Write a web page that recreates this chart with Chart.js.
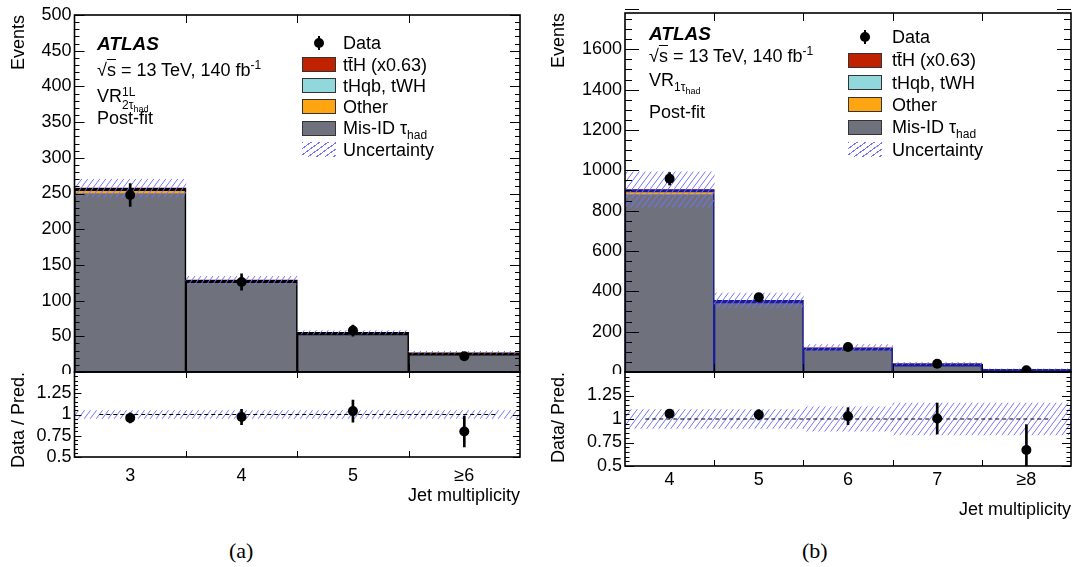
<!DOCTYPE html>
<html>
<head>
<meta charset="utf-8">
<title>Jet multiplicity, validation regions</title>
<script src="https://cdn.jsdelivr.net/npm/chart.js@4.4.1/dist/chart.umd.min.js"></script>
<style>
  body { margin: 0; background: #fff; }
  #page { position: relative; width: 1073px; height: 567px; overflow: hidden; font-family: "Liberation Sans", Arial, sans-serif; color: #000; }
  canvas { position: absolute; }
  .t { position: absolute; white-space: nowrap; font-size: 18px; line-height: 18px; }
  .t sup, .t sub { font-size: 12px; line-height: 0; }
  .ol { text-decoration: overline; }
  .sw { position: absolute; width: 34px; height: 15px; box-sizing: border-box; border: 1px solid #333; }
  .cap { position: absolute; font-family: "Liberation Serif", serif; font-size: 22px; line-height: 22px; }
</style>
</head>
<body>
<div id="page">
  <canvas id="mainA" width="530" height="374" style="left:0;top:0"></canvas>
  <canvas id="ratioA" width="530" height="141" style="left:0;top:371px"></canvas>
  <canvas id="mainB" width="533" height="374" style="left:540px;top:0"></canvas>
  <canvas id="ratioB" width="533" height="154" style="left:540px;top:371px"></canvas>

  <div class="t" style="left:97px;top:35px;font-weight:bold;font-style:italic;font-size:19px">ATLAS</div>
  <div class="t" style="left:97px;top:61px">√<span class="ol">s</span> = 13 TeV, 140 fb<sup>-1</sup></div>
  <div class="t" style="left:97px;top:86px">VR<span style="display:inline-block;font-size:12px;line-height:13px;vertical-align:-7px">1L<br>2τ<span style="font-size:9px;vertical-align:-3px">had</span></span></div>
  <div class="t" style="left:97px;top:109px">Post-fit</div>

  <div class="t" style="left:649px;top:25px;font-weight:bold;font-style:italic;font-size:19px">ATLAS</div>
  <div class="t" style="left:649px;top:47px">√<span class="ol">s</span> = 13 TeV, 140 fb<sup>-1</sup></div>
  <div class="t" style="left:649px;top:71px">VR<span style="font-size:12px;vertical-align:-5px">1τ<span style="font-size:9px;vertical-align:-3px">had</span></span></div>
  <div class="t" style="left:649px;top:103px">Post-fit</div>

  <div class="cap" style="left:229px;top:540px">(a)</div>
  <div class="cap" style="left:802px;top:540px">(b)</div>
</div>
<script>
// ---- panel (a): VR 1L 2tau_had ----
const catsA = ['3', '4', '5', '≥6'];
const misidA = [250, 125.5, 54, 26];
const otherA = [4.5, 1.6, 0.8, 0.5];
const thqbA = [0.5, 0.3, 0.1, 0.1];
const tthA = [2.5, 1.2, 0.6, 0.4];
const uncA = [12.5, 5.5, 2.5, 2];
const dataA = [248, 126, 58, 22];
const dataErrA = [16, 11.5, 7.7, 4.8];
const ratioA = [0.96, 0.97, 1.04, 0.80];
const ratioErrA = [0.06, 0.09, 0.13, 0.18];
const ratioUncA = [0.045, 0.045, 0.045, 0.045];
const yTicksA = [0, 50, 100, 150, 200, 250, 300, 350, 400, 450, 500];

// ---- panel (b): VR 1tau_had ----
const catsB = ['4', '5', '6', '7', '≥8'];
const misidB = [880, 342, 114, 38.5, 12];
const otherB = [10, 5, 2.5, 1.2, 0.5];
const thqbB = [3, 1.5, 0.7, 0.3, 0.1];
const tthB = [12, 6.5, 3, 1.5, 0.6];
const uncB = [88, 36, 16, 7, 2.3];
const dataB = [958, 371, 124, 41, 9];
const dataErrB = [31, 19, 11, 6.5, 3];
const ratioB = [1.055, 1.045, 1.03, 1.005, 0.67];
const ratioErrB = [0.035, 0.055, 0.09, 0.165, 0.27];
const ratioUncB = [0.1, 0.1, 0.13, 0.17, 0.17];
const yTicksB = [0, 200, 400, 600, 800, 1000, 1200, 1400, 1600];

const ratioTicks = [0.5, 0.75, 1, 1.25, 1.5];

const colors = { tth: '#c02200', thqb: '#90d8dc', other: '#ffa511', misid: '#6f727d', hatch: '#7373ff' };

Chart.defaults.font.family = '"Liberation Sans", Arial, sans-serif';
Chart.defaults.font.size = 18;
Chart.defaults.color = '#000';
Chart.defaults.animation = false;
Chart.defaults.plugins.legend.display = false;
Chart.defaults.plugins.tooltip.enabled = false;

function hatchPattern() {
  const c = document.createElement('canvas');
  c.width = 6; c.height = 8;
  const g = c.getContext('2d');
  g.strokeStyle = colors.hatch;
  g.lineWidth = 1;
  g.beginPath();
  g.moveTo(0, 8); g.lineTo(6, 0);
  g.moveTo(-1, 1.33); g.lineTo(1, -1.33);
  g.moveTo(5, 9.33); g.lineTo(7, 6.67);
  g.stroke();
  return g.createPattern(c, 'repeat');
}

// fixed axis box, no extra room for the end labels
function fixY(w) {
  return (s) => { s.width = w; s.paddingTop = 0; s.paddingBottom = 0; };
}

// ROOT style frame with inward ticks on all sides
const frameTicks = {
  id: 'frameTicks',
  afterDatasetsDraw(chart, args, o) {
    const { ctx, chartArea: a } = chart;
    const x = chart.scales.x, y = chart.scales.y;
    ctx.save();
    ctx.strokeStyle = '#000';
    ctx.lineWidth = 1;
    ctx.beginPath();
    const n = Math.round((y.max - y.min) / o.minor);
    for (let k = 0; k <= n; k++) {
      const v = y.min + k * o.minor;
      const r = v / o.step;
      const len = Math.abs(r - Math.round(r)) < 1e-6 ? o.majLen : o.minLen;
      const p = Math.round(y.getPixelForValue(v)) + 0.5;
      ctx.moveTo(a.left, p); ctx.lineTo(a.left + len, p);
      ctx.moveTo(a.right, p); ctx.lineTo(a.right - len, p);
    }
    const nb = x.getLabels().length;
    for (let i = 0; i < nb - 1; i++) {
      const p = Math.round((x.getPixelForValue(i) + x.getPixelForValue(i + 1)) / 2) + 0.5;
      ctx.moveTo(p, a.bottom); ctx.lineTo(p, a.bottom - o.xLen);
      ctx.moveTo(p, a.top); ctx.lineTo(p, a.top + o.xLen);
    }
    ctx.stroke();
    ctx.lineWidth = 1.6;
    ctx.strokeRect(a.left, a.top, a.right - a.left, a.bottom - a.top);
    ctx.restore();
  }
};

function mainChart(id, cats, stack, unc, pts, ptsErr, yTicks, o) {
  const total = cats.map((c, i) => stack.reduce((s, d) => s + d.data[i], 0));
  const datasets = [
    { type: 'line', data: pts, showLine: false, pointRadius: 5, pointBackgroundColor: '#000', pointBorderWidth: 0, order: 0 },
    { type: 'bar', data: pts.map((v, i) => [v - ptsErr[i], v + ptsErr[i]]), backgroundColor: '#000',
      grouped: false, maxBarThickness: 2, stack: 'err', order: 1 },
    { type: 'bar', data: total.map((v, i) => [v - unc[i], v + unc[i]]), backgroundColor: hatchPattern(),
      grouped: false, stack: 'unc', order: 2 },
    { type: 'bar', data: total, backgroundColor: 'rgba(0,0,0,0)', borderColor: o.line,
      borderWidth: { top: 2.5, left: 0.8, right: 0.8, bottom: 0 }, borderSkipped: false,
      grouped: false, stack: 'outline', order: 3 }
  ];
  stack.forEach((d, k) => datasets.push({ type: 'bar', data: d.data, backgroundColor: d.color, borderWidth: 0, stack: 'mc', order: 4 + k }));
  return new Chart(document.getElementById(id), {
    type: 'bar',
    data: { labels: cats, datasets: datasets },
    options: {
      responsive: false,
      devicePixelRatio: 1,
      barPercentage: 1,
      categoryPercentage: 1,
      layout: { autoPadding: false, padding: { top: o.top, right: o.right, left: 0, bottom: 2 } },
      scales: {
        x: { type: 'category', offset: true, stacked: true, display: false },
        y: {
          stacked: true, min: 0, max: o.ymax,
          afterBuildTicks: (s) => { s.ticks = yTicks.map((v) => ({ value: v })); },
          afterFit: fixY(o.yw),
          ticks: { padding: 3, autoSkip: false, callback: (v) => String(v) },
          grid: { display: false, drawTicks: false }, border: { display: false },
          title: { display: true, text: 'Events', align: 'end', padding: { top: 8, bottom: 0 } }
        }
      },
      plugins: { frameTicks: { step: o.step, minor: o.minor, majLen: o.majLen, minLen: o.minLen, xLen: 8 } }
    },
    plugins: [frameTicks]
  });
}

function ratioChart(id, cats, ratio, ratioErr, band, o) {
  const datasets = [
    { type: 'line', data: ratio, showLine: false, pointRadius: 5, pointBackgroundColor: '#000', pointBorderWidth: 0, order: 0 },
    { type: 'bar', data: ratio.map((v, i) => [v - ratioErr[i], v + ratioErr[i]]), backgroundColor: '#000',
      grouped: false, maxBarThickness: 2, order: 1 },
    { type: 'line', xAxisID: 'xl', data: [{ x: 0, y: 1 }, { x: cats.length, y: 1 }], borderColor: '#000',
      borderWidth: 1.2, borderDash: [4, 3], pointRadius: 0, order: 2 },
    { type: 'bar', data: band.map((u) => [1 - u, 1 + u]), backgroundColor: hatchPattern(), grouped: false, order: 3 }
  ];
  return new Chart(document.getElementById(id), {
    type: 'bar',
    data: { labels: cats, datasets: datasets },
    options: {
      responsive: false,
      devicePixelRatio: 1,
      barPercentage: 1,
      categoryPercentage: 1,
      layout: { autoPadding: false, padding: { top: 1, right: o.right, left: 0, bottom: 0 } },
      scales: {
        x: {
          type: 'category', offset: true,
          afterFit: (s) => { s.height = o.xh; },
          ticks: { padding: o.tickPad, maxRotation: 0 },
          grid: { display: false, drawTicks: false }, border: { display: false },
          title: { display: true, text: 'Jet multiplicity', align: 'end', padding: { top: 0, bottom: o.titlePad } }
        },
        xl: { type: 'linear', display: false, min: 0, max: cats.length },
        y: {
          min: 0.5, max: 1.5,
          afterBuildTicks: (s) => { s.ticks = ratioTicks.map((v) => ({ value: v })); },
          afterFit: fixY(o.yw),
          ticks: { padding: 3, autoSkip: false, callback: (v) => (v > 1.4 ? '' : String(v)) },
          grid: { display: false, drawTicks: false }, border: { display: false },
          title: { display: true, text: o.ytitle, align: 'end', padding: { top: 8, bottom: 0 } }
        }
      },
      plugins: { frameTicks: { step: 0.25, minor: 0.05, majLen: o.majLen, minLen: o.minLen, xLen: 6 } }
    },
    plugins: [frameTicks]
  });
}

mainChart('mainA', catsA, [
  { data: misidA, color: colors.misid },
  { data: otherA, color: colors.other },
  { data: thqbA, color: colors.thqb },
  { data: tthA, color: colors.tth }
], uncA, dataA, dataErrA, yTicksA, { top: 15, right: 10, yw: 74.5, ymax: 500, step: 50, minor: 10, majLen: 10, minLen: 5, line: '#000' });

ratioChart('ratioA', catsA, ratioA, ratioErrA, ratioUncA,
  { right: 10, yw: 74.5, xh: 55, tickPad: 8, titlePad: 5, ytitle: 'Data / Pred.', majLen: 7, minLen: 3.5 });

mainChart('mainB', catsB, [
  { data: misidB, color: colors.misid },
  { data: otherB, color: colors.other },
  { data: thqbB, color: colors.thqb },
  { data: tthB, color: colors.tth }
], uncB, dataB, dataErrB, yTicksB, { top: 13, right: 2, yw: 85, ymax: 1780, step: 200, minor: 50, majLen: 14, minLen: 7, line: '#1a1a9c' });

ratioChart('ratioB', catsB, ratioB, ratioErrB, ratioUncB,
  { right: 2, yw: 85, xh: 59, tickPad: 3, titlePad: 4, ytitle: 'Data/ Pred.', majLen: 9, minLen: 4.5 });

// legends
const legendRows = [
  { kind: 'data', html: 'Data' },
  { kind: 'box', color: colors.tth, html: 't<span>t&#772;</span>H (x0.63)' },
  { kind: 'box', color: colors.thqb, html: 'tHqb, tWH' },
  { kind: 'box', color: colors.other, html: 'Other' },
  { kind: 'box', color: colors.misid, html: 'Mis-ID τ<sub style="vertical-align:-5px">had</sub>' },
  { kind: 'hatch', html: 'Uncertainty' }
];

function legend(boxX, textX, rowsY) {
  const page = document.getElementById('page');
  legendRows.forEach((r, i) => {
    const cy = rowsY[i];
    if (r.kind === 'data') {
      const dot = document.createElement('div');
      dot.style.cssText = `position:absolute;left:${boxX + 12}px;top:${cy - 5}px;width:10px;height:10px;border-radius:50%;background:#000`;
      const bar = document.createElement('div');
      bar.style.cssText = `position:absolute;left:${boxX + 16}px;top:${cy - 7}px;width:2px;height:14px;background:#000`;
      page.appendChild(bar); page.appendChild(dot);
    } else {
      const sw = document.createElement('div');
      sw.className = 'sw';
      sw.style.left = boxX + 'px';
      sw.style.top = (cy - 7.5) + 'px';
      if (r.kind === 'hatch') {
        sw.style.border = 'none';
        sw.style.background = `repeating-linear-gradient(144deg, ${colors.hatch} 0 1px, transparent 1px 5px)`;
      } else {
        sw.style.background = r.color;
      }
      page.appendChild(sw);
    }
    const t = document.createElement('div');
    t.className = 't';
    t.style.left = textX + 'px';
    t.style.top = (cy - 9) + 'px';
    t.innerHTML = r.html;
    page.appendChild(t);
  });
}

legend(302, 343, [43, 64.5, 85.5, 106.5, 128, 149.5]);
legend(848, 892, [37, 60, 82.5, 104.5, 127, 149.5]);
</script>
</body>
</html>
